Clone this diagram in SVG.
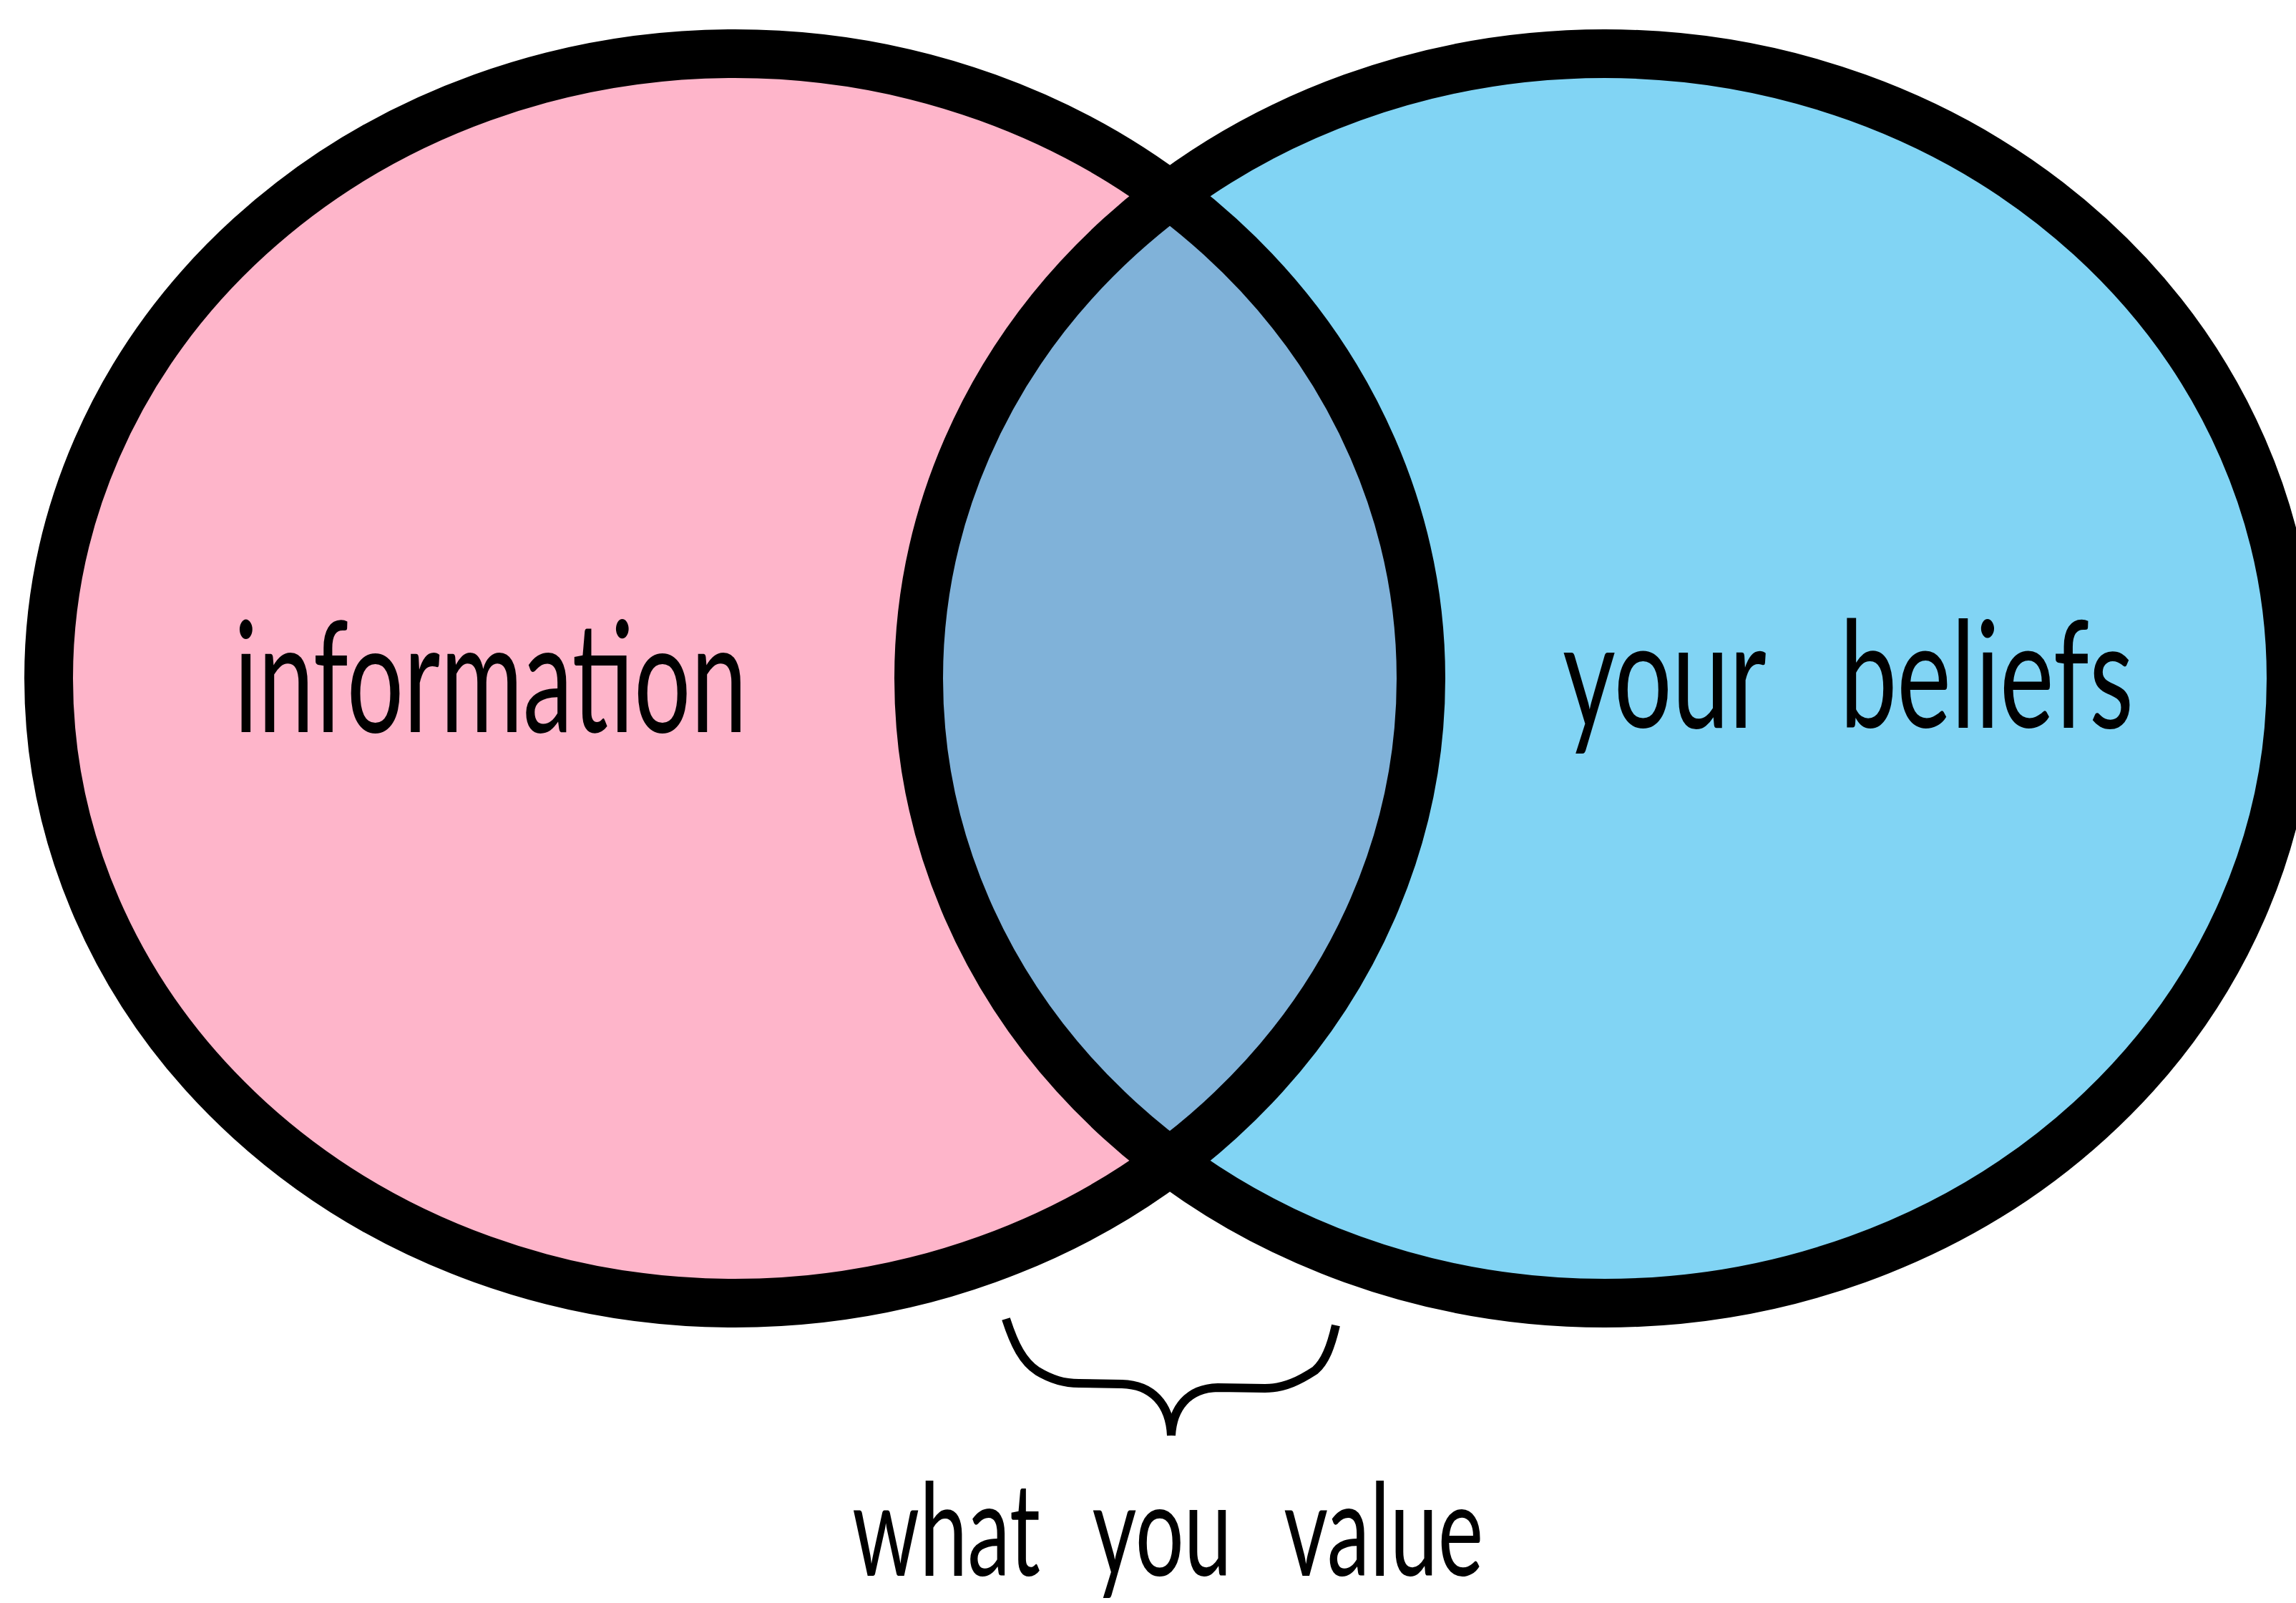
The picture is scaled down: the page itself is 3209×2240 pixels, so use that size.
<svg xmlns="http://www.w3.org/2000/svg" width="3209" height="2240" viewBox="0 0 3209 2240">
  <style>
    .ring { fill: none; stroke: #000; stroke-width: 68; }
    .label { font-family: Lato, "Open Sans", "DejaVu Sans", sans-serif; font-weight: 400; fill: #000; }
    .brace { fill: none; stroke: #000; stroke-width: 12; stroke-linecap: butt; stroke-linejoin: round; }
  </style>
  <defs>
    <clipPath id="leftClip">
      <ellipse cx="1027" cy="948" rx="959" ry="873"/>
    </clipPath>
  </defs>
  <rect x="0" y="0" width="3209" height="2240" fill="#fff"/>

  <!-- set A -->
  <g id="set-information">
    <ellipse cx="1027" cy="948" rx="959" ry="873" fill="#FEB5CA"/>
  </g>

  <!-- set B -->
  <g id="set-beliefs">
    <ellipse cx="2243" cy="948" rx="959" ry="873" fill="#81D4F4"/>
  </g>

  <!-- intersection A ∩ B -->
  <g id="set-overlap">
    <ellipse cx="2243" cy="948" rx="959" ry="873" fill="#80B2D9" clip-path="url(#leftClip)"/>
  </g>

  <!-- outlines drawn over both fills -->
  <g id="outlines">
    <ellipse class="ring" cx="1027" cy="948" rx="959" ry="873"/>
    <ellipse class="ring" cx="2243" cy="948" rx="959" ry="873"/>
  </g>

  <g id="label-information">
    <text class="label" x="327" y="1023" font-size="215" textLength="717" lengthAdjust="spacingAndGlyphs">information</text>
  </g>
  <g id="label-beliefs">
    <text class="label" x="2184" y="1017" font-size="208" word-spacing="100" textLength="798" lengthAdjust="spacingAndGlyphs">your beliefs</text>
  </g>

  <!-- brace under the overlap -->
  <g id="connectors">
    <path class="brace" d="M1406,1843 C1418,1880 1430,1903 1450,1916 C1470,1928 1487,1933 1508,1933 L1568,1934 C1610,1935 1635,1962 1637,2006"/>
    <path class="brace" d="M1637,2006 C1639,1968 1660,1940 1702,1939 L1768,1940 C1796,1940 1818,1928 1838,1915 C1852,1903 1860,1882 1867,1852"/>
  </g>

  <g id="label-value">
    <text class="label" x="1191" y="2202" font-size="180" word-spacing="67" textLength="882" lengthAdjust="spacingAndGlyphs">what you value</text>
  </g>
</svg>
